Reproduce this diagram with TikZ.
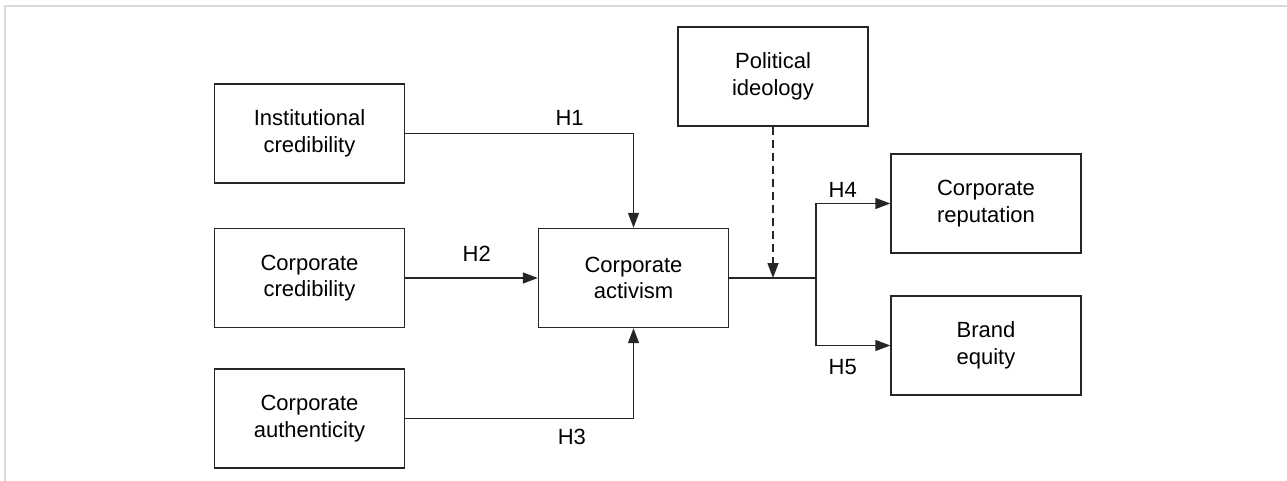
\documentclass[tikz,border=0pt]{standalone}
\usepackage{fontspec}
\setmainfont{Liberation Sans}
\usetikzlibrary{arrows.meta}

\tikzset{
  boite/.style={rectangle, draw=black!85, line width=1.4pt, minimum width=190pt, minimum height=99pt, align=center, font=\fontsize{22}{26.5}\selectfont},
  fleche/.style={draw=black!85, line width=1.4pt, -{Triangle[length=15pt, width=11pt]}},
  hyp/.style={font=\fontsize{22}{26.5}\selectfont}
}

\begin{document}
\begin{tikzpicture}[x=1pt, y=-1pt]
  \useasboundingbox (0,0) rectangle (1287,481);
  \draw[gray!30, line width=2pt] (4.5,481) -- (4.5,6) -- (1287,6);

  \node (inst) [boite] at (309.5,133.5) {Institutional\\credibility};
  \node (cred) [boite, below of=inst, node distance=144.5pt] {Corporate\\credibility};
  \node (auth) [boite, below of=cred, node distance=140.5pt] {Corporate\\authenticity};
  \node (activ) [boite] at (633.5,278) {Corporate\\activism};
  \node (ideo) [boite] at (773,76.5) {Political\\ideology};
  \node (repu) [boite] at (986,203.5) {Corporate\\reputation};
  \node (brand) [boite, below of=repu, node distance=142pt] {Brand\\equity};

  \coordinate (modere) at (773,278);
  \coordinate (branche) at (816,278);

  \draw[fleche] (inst.east) -| node[hyp, pos=0.36, above=4pt] {H1} (activ.north);
  \draw[fleche] (cred) -- node[hyp, above=12pt, pos=0.54] {H2} (activ);
  \draw[fleche] (auth.east) -| node[hyp, pos=0.365, below=7pt] {H3} (activ.south);
  \draw[draw=black!85, line width=1.4pt] (activ.east) -- (branche);
  \draw[fleche, dash pattern=on 8pt off 5pt] (ideo.south) -- (modere);
  \draw[fleche] (branche) |- node[hyp, pos=0.68, above=2pt] {H4} (repu.west);
  \draw[fleche] (branche) |- node[hyp, pos=0.68, below=10pt] {H5} (brand.west);
\end{tikzpicture}
\end{document}
